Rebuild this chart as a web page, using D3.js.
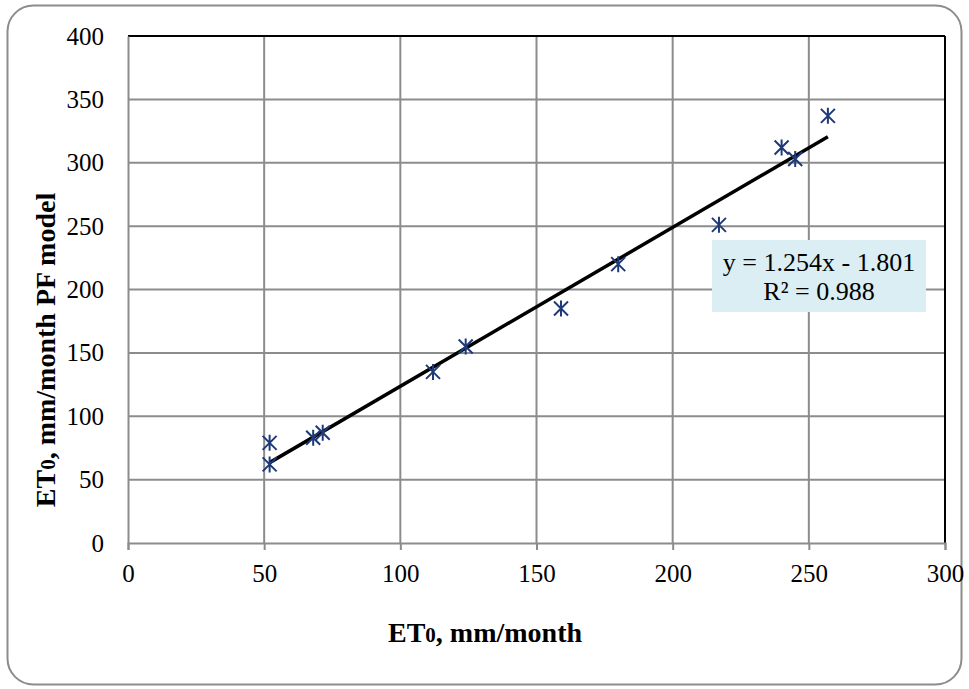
<!DOCTYPE html>
<html>
<head>
<meta charset="utf-8">
<script src="https://cdn.jsdelivr.net/npm/d3@7"></script>
<style>
  body { margin: 0; background: #fff; }
  svg text { font-family: "Liberation Serif", "Times New Roman", serif; fill: #000; }
</style>
</head>
<body>
<svg id="chart" width="969" height="689"></svg>
<script>
// observed vs model ET0 values
var et0Obs = [52, 52, 68, 71.5, 112, 124, 159, 180, 217, 240, 245, 257];
var et0Model = [79, 62, 83, 87, 135, 155, 185, 220, 251, 312, 303, 337];
var xTicks = [0, 50, 100, 150, 200, 250, 300];
var yTicks = [0, 50, 100, 150, 200, 250, 300, 350, 400];
var slope = 1.254, intercept = -1.801, r2 = 0.988;

var svg = d3.select('#chart');
var plotLeft = 128, plotRight = 945, plotTop = 36, plotBottom = 543;
var gridColor = '#8c8c8c';
var serif = '"Liberation Serif", "Times New Roman", serif';

svg.append('rect')
    .attr('x', 7.5).attr('y', 5.5)
    .attr('width', 954).attr('height', 679)
    .attr('rx', 26).attr('ry', 26)
    .attr('fill', '#fff')
    .attr('stroke', gridColor)
    .attr('stroke-width', 2);

var x = d3.scaleLinear().domain([0, 300]).range([plotLeft, plotRight]);
var y = d3.scaleLinear().domain([0, 400]).range([plotBottom, plotTop]);

// gridlines
svg.append('g').selectAll('line')
    .data(xTicks.slice(1, -1))
    .join('line')
    .attr('x1', d => x(d)).attr('x2', d => x(d))
    .attr('y1', plotTop).attr('y2', plotBottom)
    .attr('stroke', gridColor).attr('stroke-width', 2);

svg.append('g').selectAll('line')
    .data(yTicks.slice(1, -1))
    .join('line')
    .attr('x1', plotLeft).attr('x2', plotRight)
    .attr('y1', d => y(d)).attr('y2', d => y(d))
    .attr('stroke', gridColor).attr('stroke-width', 2);

// plot frame: black top and right
svg.append('line').attr('x1', plotLeft).attr('x2', plotRight).attr('y1', plotTop).attr('y2', plotTop)
    .attr('stroke', '#000').attr('stroke-width', 2);
svg.append('line').attr('x1', plotRight).attr('x2', plotRight).attr('y1', plotTop).attr('y2', plotBottom)
    .attr('stroke', '#000').attr('stroke-width', 2);

// axes
var xAxis = svg.append('g')
    .attr('transform', 'translate(0,' + plotBottom + ')')
    .call(d3.axisBottom(x).tickValues(xTicks).tickSize(7).tickPadding(14).tickFormat(d3.format('d')));
var yAxis = svg.append('g')
    .attr('transform', 'translate(' + plotLeft + ',0)')
    .call(d3.axisLeft(y).tickValues(yTicks).tickSize(0).tickPadding(24).tickFormat(d3.format('d')));

[xAxis, yAxis].forEach(function(a) {
    a.attr('font-family', serif).attr('font-size', 25);
    a.select('.domain').attr('stroke', gridColor).attr('stroke-width', 2);
    a.selectAll('.tick line').attr('stroke', gridColor).attr('stroke-width', 2);
    a.selectAll('.tick text')
        .style('font-family', serif).style('font-size', '25px').attr('fill', '#000');
});

// trend line
var xMin = d3.min(et0Obs), xMax = d3.max(et0Obs);
svg.append('line')
    .attr('x1', x(xMin)).attr('y1', y(slope * xMin + intercept))
    .attr('x2', x(xMax)).attr('y2', y(slope * xMax + intercept))
    .attr('stroke', '#000').attr('stroke-width', 3.5);

// star markers
var s = 7;
var markers = svg.append('g').selectAll('g')
    .data(et0Obs.map((d, i) => [d, et0Model[i]]))
    .join('g')
    .attr('transform', d => 'translate(' + x(d[0]) + ',' + y(d[1]) + ')');
markers.append('path')
    .attr('d', 'M' + (-s) + ',' + (-s) + 'L' + s + ',' + s +
        'M' + s + ',' + (-s) + 'L' + (-s) + ',' + s +
        'M0,' + (-s - 1) + 'L0,' + (s + 1))
    .attr('stroke', '#1f3a78').attr('stroke-width', 2).attr('fill', 'none');

// equation box
svg.append('rect')
    .attr('x', 712).attr('y', 240).attr('width', 214).attr('height', 72)
    .attr('fill', '#dbeef3');
svg.append('text').attr('x', 819).attr('y', 271).attr('text-anchor', 'middle')
    .attr('font-size', 26)
    .text('y = ' + slope.toFixed(3) + 'x - ' + Math.abs(intercept).toFixed(3));
svg.append('text').attr('x', 819).attr('y', 300).attr('text-anchor', 'middle')
    .attr('font-size', 26)
    .text('R² = ' + r2.toFixed(3));

// axis titles
var xTitle = svg.append('text').attr('x', 485).attr('y', 642)
    .attr('text-anchor', 'middle').attr('font-size', 28).attr('font-weight', 'bold');
xTitle.append('tspan').text('ET');
xTitle.append('tspan').attr('font-size', 21).text('0');
xTitle.append('tspan').text(', mm/month');

var yTitle = svg.append('text')
    .attr('transform', 'translate(55,350) rotate(-90)')
    .attr('text-anchor', 'middle').attr('font-size', 28).attr('font-weight', 'bold');
yTitle.append('tspan').text('ET');
yTitle.append('tspan').attr('font-size', 21).text('0');
yTitle.append('tspan').text(', mm/month PF model');
</script>
</body>
</html>
